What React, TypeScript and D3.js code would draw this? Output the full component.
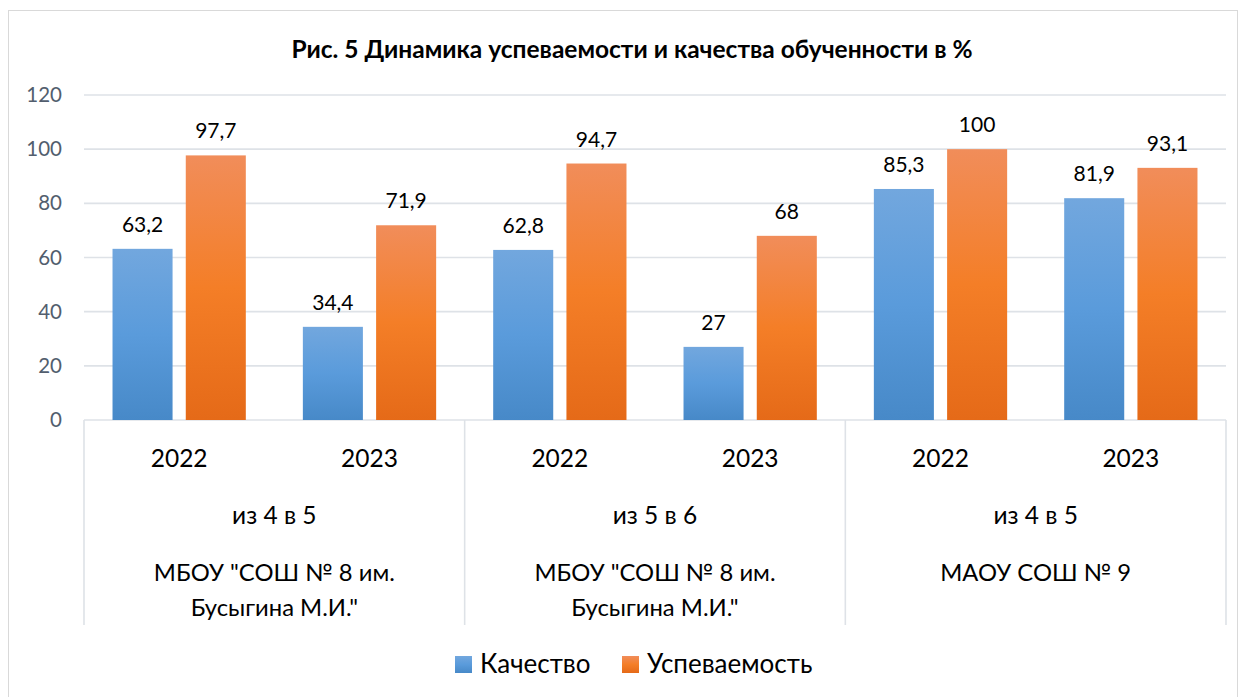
import React from "react";
import * as d3 from "d3";

const title = "Рис. 5 Динамика успеваемости и качества обученности в %";
const schools = [["МБОУ \"СОШ № 8 им.", "Бусыгина М.И.\""], ["МБОУ \"СОШ № 8 им.", "Бусыгина М.И.\""], ["МАОУ СОШ № 9"]];
const transitions = ["из 4 в 5", "из 5 в 6", "из 4 в 5"];
const years = ["2022", "2023"];
const seriesNames = ["Качество", "Успеваемость"];
const quality = [63.2, 34.4, 62.8, 27, 85.3, 81.9];
const success = [97.7, 71.9, 94.7, 68, 100, 93.1];
const yTicks = [0, 20, 40, 60, 80, 100, 120];

const W = 1245, H = 697;
const left = 84, right = 1226, top = 95, bottom = 420;
const FONT = "Lato, 'Open Sans', sans-serif";

export default function App() {
  const y = d3.scaleLinear().domain([0, 120]).range([bottom, top]);
  const xg = d3.scaleBand<number>().domain(d3.range(schools.length)).range([left, right]);
  const gw = xg.bandwidth();
  const xs = d3.scaleBand<number>().domain(d3.range(years.length)).range([0, gw]);
  const sw = xs.bandwidth();
  const barW = sw / (2 + 0.22 + 0.95);
  const gap = barW * 0.22;
  const fmt = (v: number) => String(v).replace(".", ",");
  const seriesData = [quality, success];
  const fills = ["url(#gBlue)", "url(#gOrange)"];
  const gridColor = "#DEE2E7";

  return (
    <svg width={W} height={H} style={{ position: "absolute", left: 0, top: 0, background: "#fff" }} fontFamily={FONT}>
      <defs>
        <linearGradient id="gBlue" x1="0" y1="0" x2="0" y2="1">
          <stop offset="0" stopColor="#72A7DE" />
          <stop offset="0.5" stopColor="#5A9BDB" />
          <stop offset="1" stopColor="#4789C8" />
        </linearGradient>
        <linearGradient id="gOrange" x1="0" y1="0" x2="0" y2="1">
          <stop offset="0" stopColor="#F18D5A" />
          <stop offset="0.5" stopColor="#F47E27" />
          <stop offset="1" stopColor="#E56A18" />
        </linearGradient>
      </defs>
      <rect x={8.5} y={10.5} width={1229} height={700} fill="#fff" stroke="#D9D9D9" strokeWidth={1} />
      <text x={632} y={58} textAnchor="middle" fontWeight="bold" fontSize={24.5} fill="#000">{title}</text>

      {yTicks.map((t) => (
        <g key={t}>
          <line x1={left} x2={right} y1={y(t)} y2={y(t)} stroke={gridColor} strokeWidth={1.6} />
          <text x={62} y={y(t) + 7} textAnchor="end" fontSize={20.5} fill="#525E6E">{t}</text>
        </g>
      ))}

      {d3.range(schools.length + 1).map((i) => {
        const x = i < schools.length ? xg(i)! : right;
        return <line key={i} x1={x} x2={x} y1={bottom} y2={625} stroke={gridColor} strokeWidth={1.6} />;
      })}

      {schools.map((s, gi) => (
        <g key={gi}>
          {years.map((yr, si) => {
            const x0 = xg(gi)! + xs(si)!;
            const idx = gi * years.length + si;
            const bx0 = x0 + (sw - (2 * barW + gap)) / 2;
            return (
              <g key={si}>
                {seriesData.map((arr, k) => {
                  const bx = bx0 + k * (barW + gap);
                  const v = arr[idx];
                  return (
                    <g key={k}>
                      <rect x={bx} y={y(v)} width={barW} height={y(0) - y(v)} fill={fills[k]} />
                      <text x={bx + barW / 2} y={y(v) - 17} textAnchor="middle" fontSize={21} fill="#000">{fmt(v)}</text>
                    </g>
                  );
                })}
                <text x={x0 + sw / 2} y={467} textAnchor="middle" fontSize={24.5} fill="#000">{yr}</text>
              </g>
            );
          })}
          <text x={xg(gi)! + gw / 2} y={524} textAnchor="middle" fontSize={24.5} fill="#000">{transitions[gi]}</text>
          {s.map((line, li) => (
            <text key={li} x={xg(gi)! + gw / 2} y={581 + li * 35} textAnchor="middle" fontSize={23.8} fill="#000">{line}</text>
          ))}
        </g>
      ))}

      {seriesNames.map((n, k) => {
        const lx = [455, 622][k];
        return (
          <g key={n}>
            <rect x={lx} y={656} width={17} height={17} fill={fills[k]} />
            <text x={lx + 25} y={673} fontSize={26} fill="#000">{n}</text>
          </g>
        );
      })}
    </svg>
  );
}
